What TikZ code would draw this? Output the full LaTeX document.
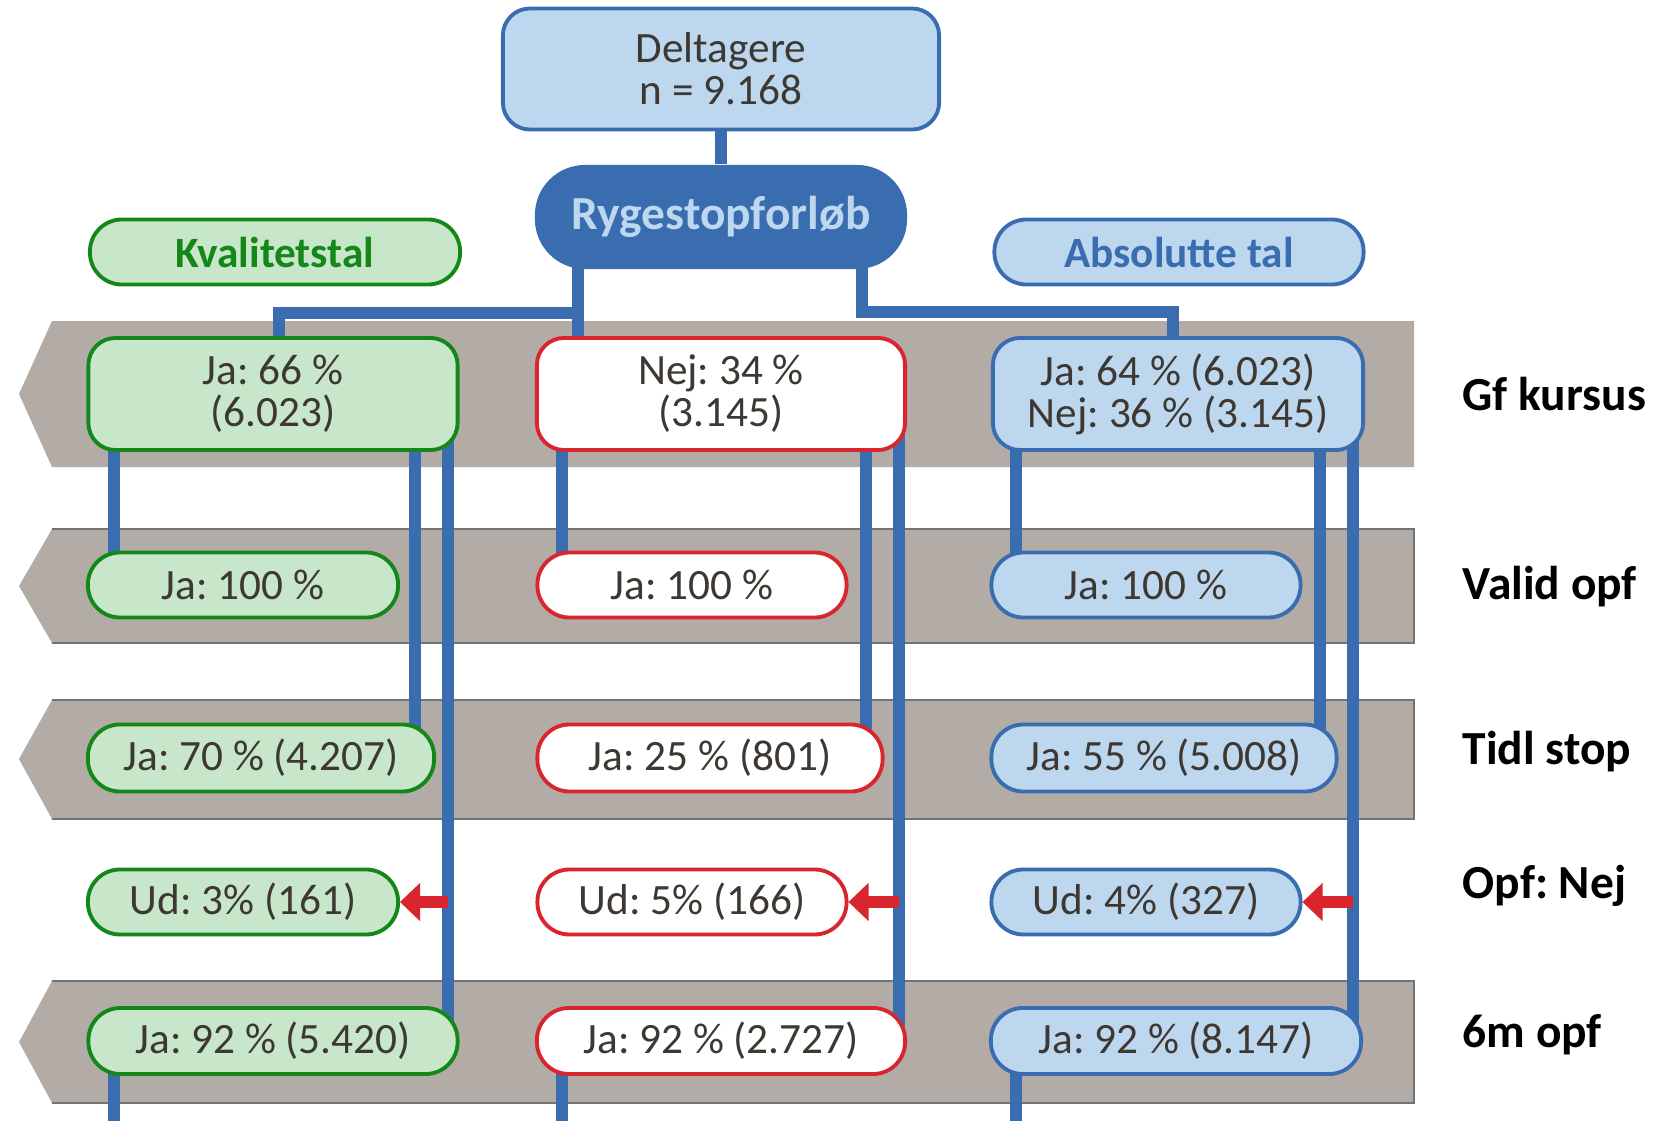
\documentclass[tikz,border=0pt]{standalone}
\usepackage{fontspec}
\setmainfont{Carlito}
\usetikzlibrary{arrows.meta}
\frenchspacing

\definecolor{linkblue}{RGB}{58,108,176}
\definecolor{paleblue}{RGB}{189,215,238}
\definecolor{palegreen}{RGB}{200,230,202}
\definecolor{darkgreen}{RGB}{20,135,25}
\definecolor{stopred}{RGB}{217,38,46}
\definecolor{bandgray}{RGB}{179,171,165}
\definecolor{textdark}{RGB}{62,56,50}

\pgfdeclarelayer{bands}
\pgfdeclarelayer{links}
\pgfsetlayers{bands,links,main}

\begin{document}
\begin{tikzpicture}[x=0.01cm, y=-0.01cm,
    box/.style={draw, line width=1.1pt, align=center, inner sep=0pt, text=textdark, font=\fontsize{12.3}{12}\selectfont},
    gbox/.style={box, draw=darkgreen, fill=palegreen},
    rbox/.style={box, draw=stopred, fill=white},
    bbox/.style={box, draw=linkblue, fill=paleblue},
    pill/.style={rounded corners=0.32cm, minimum height=0.65cm},
    wide/.style={rounded corners=0.27cm, minimum height=1.12cm},
    link/.style={draw=linkblue, line width=3.4pt},
    stopp/.style={draw=stopred, line width=3.3pt, -{Triangle[length=0.2cm, width=0.37cm]}},
    rowlabel/.style={anchor=west, inner sep=0pt, font=\fontsize{13.5}{14}\selectfont\bfseries},
    band/.style={fill=bandgray},
    bandedge/.style={draw=black!55, line width=0.8pt}
]
    \useasboundingbox (0,0) rectangle (1668,1121);

    % grey bands
    \begin{pgfonlayer}{bands}
    \fill[band] (52,321) -- (1414,321) -- (1414,467) -- (52,467) -- (19,394) -- cycle;
    \fill[band] (52,529) -- (1414,529) -- (1414,643) -- (52,643) -- (19,586) -- cycle;
    \draw[bandedge] (52,529) -- (1414,529) -- (1414,643) -- (52,643);
    \fill[band] (52,700) -- (1414,700) -- (1414,819) -- (52,819) -- (19,759) -- cycle;
    \draw[bandedge] (52,700) -- (1414,700) -- (1414,819) -- (52,819);
    \fill[band] (52,981) -- (1414,981) -- (1414,1103) -- (52,1103) -- (19,1042) -- cycle;
    \draw[bandedge] (52,981) -- (1414,981) -- (1414,1103) -- (52,1103);
    \end{pgfonlayer}

    \node[bbox, rounded corners=0.27cm, minimum width=4.36cm, minimum height=1.21cm] (T) at (721,69) {Deltagere\\n = 9.168};
    \node[fill=linkblue, rounded corners=0.5cm, minimum width=3.72cm, minimum height=1.04cm, text=paleblue, font=\fontsize{13.5}{14}\selectfont\bfseries] (R) at (721,217) {Rygestopforløb};
    \node[gbox, pill, minimum width=3.70cm, text=darkgreen, font=\fontsize{12.3}{12}\selectfont\bfseries] (K) at (275,252) {Kvalitetstal};
    \node[bbox, pill, minimum width=3.69cm, text=linkblue, font=\fontsize{12.3}{12}\selectfont\bfseries] (A) at (1179,252) {Absolutte tal};

    \node[gbox, wide, minimum width=3.69cm] (G1) at (273,394) {Ja: 66 \%\\(6.023)};
    \node[rbox, wide, minimum width=3.68cm] (N1) at (721,394) {Nej: 34 \%\\(3.145)};
    \node[bbox, wide, minimum width=3.70cm] (B1) at (1178,394) {Ja: 64 \% (6.023)\\Nej: 36 \% (3.145)};

    \node[gbox, pill, minimum width=3.10cm] (G2) at (243,585) {Ja: 100 \%};
    \node[rbox, pill, minimum width=3.09cm] (N2) at (692,585) {Ja: 100 \%};
    \node[bbox, pill, minimum width=3.09cm] (B2) at (1146,585) {Ja: 100 \%};

    \node[gbox, pill, minimum width=3.46cm, minimum height=0.67cm] (G3) at (261,758) {Ja: 70 \% (4.207)};
    \node[rbox, pill, minimum width=3.45cm, minimum height=0.67cm] (N3) at (710,758) {Ja: 25 \% (801)};
    \node[bbox, pill, minimum width=3.45cm, minimum height=0.67cm] (B3) at (1164,758) {Ja: 55 \% (5.008)};

    \node[gbox, pill, minimum width=3.10cm] (G4) at (243,902) {Ud: 3\% (161)};
    \node[rbox, pill, minimum width=3.09cm] (N4) at (692,902) {Ud: 5\% (166)};
    \node[bbox, pill, minimum width=3.09cm] (B4) at (1146,902) {Ud: 4\% (327)};

    \node[gbox, pill, minimum width=3.69cm, minimum height=0.66cm] (G5) at (273,1041) {Ja: 92 \% (5.420)};
    \node[rbox, pill, minimum width=3.68cm, minimum height=0.66cm] (N5) at (721,1041) {Ja: 92 \% (2.727)};
    \node[bbox, pill, minimum width=3.70cm, minimum height=0.66cm] (B5) at (1176,1041) {Ja: 92 \% (8.147)};

    \node[rowlabel] (L1) at (1462,394) {Gf kursus};
    \node[rowlabel] (L2) at (1462,587) {Valid opf};
    \node[rowlabel] (L3) at (1462,752) {Tidl stop};
    \node[rowlabel] (L4) at (1462,886) {Opf: Nej};
    \node[rowlabel] (L5) at (1462,1035) {6m opf};

    % column positions of the connectors
    \coordinate (ga) at (114,0);
    \coordinate (gb) at (415,0);
    \coordinate (gc) at (448,0);
    \coordinate (na) at (562,0);
    \coordinate (nb) at (866,0);
    \coordinate (nc) at (899,0);
    \coordinate (ba) at (1016,0);
    \coordinate (bb) at (1320,0);
    \coordinate (bc) at (1353,0);
    \coordinate (bot) at (0,1121);
    \coordinate (RL) at (578,313);
    \coordinate (RR) at (862,312);

    \begin{pgfonlayer}{links}
    \draw[link] (T) -- (R);
    \draw[link] (R -| RL) -- (N1 -| RL);
    \draw[link] (RL) -| ([xshift=0.06cm]G1.center);
    \draw[link] (R -| RR) -- (RR) -| ([xshift=-0.05cm]B1.center);

    \draw[link] (G1 -| ga) -- (G2 -| ga);
    \draw[link] (G1 -| gb) -- (G3 -| gb);
    \draw[link] (G1 -| gc) -- (G5 -| gc);
    \draw[link] (G5 -| ga) -- (ga |- bot);
    \draw[stopp] (G4 -| gc) -- (G4.east);

    \draw[link] (N1 -| na) -- (N2 -| na);
    \draw[link] (N1 -| nb) -- (N3 -| nb);
    \draw[link] (N1 -| nc) -- (N5 -| nc);
    \draw[link] (N5 -| na) -- (na |- bot);
    \draw[stopp] (N4 -| nc) -- (N4.east);

    \draw[link] (B1 -| ba) -- (B2 -| ba);
    \draw[link] (B1 -| bb) -- (B3 -| bb);
    \draw[link] (B1 -| bc) -- (B5 -| bc);
    \draw[link] (B5 -| ba) -- (ba |- bot);
    \draw[stopp] (B4 -| bc) -- (B4.east);
    \end{pgfonlayer}

\end{tikzpicture}
\end{document}
